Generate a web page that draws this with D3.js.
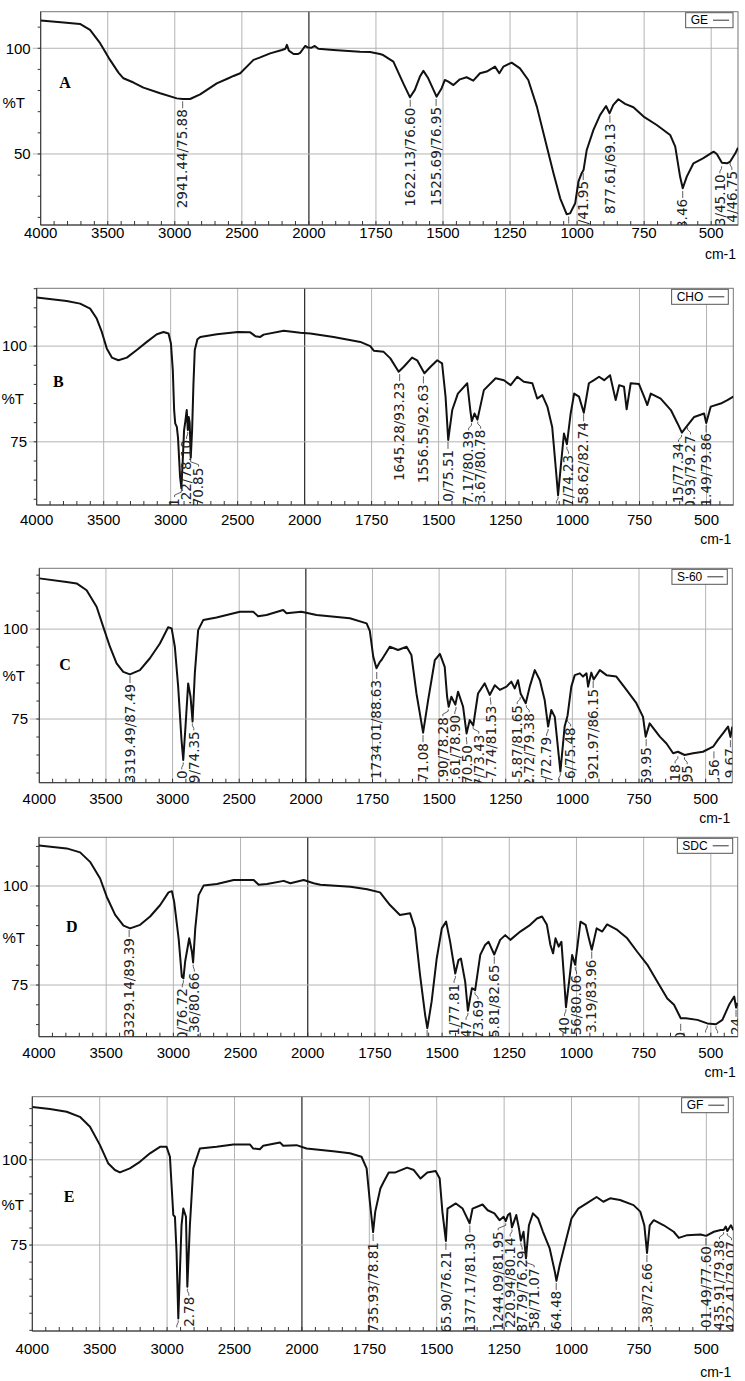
<!DOCTYPE html>
<html>
<head>
<meta charset="utf-8">
<script src="https://cdn.jsdelivr.net/npm/d3@7/dist/d3.min.js"></script>
<style>
body { margin: 0; background: #fff; }
svg { display: block; }
</style>
</head>
<body>
<div id="chart"></div>
<script>

// ---- data: [wavenumber cm-1, %T] ----
var spectrumGE = [[4000,113.1],[3850,112.3],[3707,111.5],[3632,108.7],[3557,102.4],[3483,94.5],[3420,88.5],[3383,85.8],[3308,83.8],[3234,81.4],[3109,78.7],[2985,76.3],[2941,76.0],[2886,76.0],[2811,78.2],[2687,83.4],[2600,85.8],[2562,86.9],[2512,88.2],[2413,94.5],[2363,95.7],[2289,97.6],[2201,99.2],[2175,99.8],[2164,101.6],[2150,99.0],[2139,98.4],[2114,97.3],[2080,97.3],[2065,97.8],[2040,100],[2027,101.1],[2010,100.4],[1990,100.3],[1978,101.1],[1965,99.8],[1909,99.2],[1810,98.4],[1772,98.2],[1735,97.3],[1723,96.8],[1685,93.7],[1648,83.4],[1623,76.8],[1605,80.3],[1586,86.6],[1573,89.3],[1555,85.8],[1524,77.1],[1505,81.1],[1493,85.0],[1480,84.2],[1461,82.6],[1437,85.3],[1412,86.3],[1387,84.7],[1362,88.2],[1337,89.0],[1306,91.3],[1290,88.2],[1275,91.3],[1244,93.2],[1213,90.5],[1182,85.0],[1150,72.4],[1119,56.6],[1088,40.9],[1063,29.0],[1039,21.5],[1026,21.9],[1007,26.7],[995,36.9],[983,40.9],[976,42.4],[964,51.9],[939,61.4],[914,68.5],[892,72.7],[879,69.2],[865,73.2],[846,75.9],[821,73.7],[790,72.1],[752,67.7],[703,63.7],[653,59.0],[634,53.5],[616,39.3],[606,33.8],[591,39.3],[566,45.6],[529,48.0],[491,51.1],[479,50.0],[460,45.9],[441,45.6],[429,46.4],[410,50.3],[400,53.0]];

var spectrumCHO = [[4000,112.7],[3776,111.8],[3676,111.1],[3601,109.8],[3552,107.2],[3514,103.7],[3477,99.4],[3439,97.0],[3390,96.3],[3327,97.0],[3253,99.0],[3178,101.1],[3103,103.1],[3053,103.7],[3016,103.3],[2998,100.7],[2984,93.7],[2974,83.3],[2966,79.8],[2954,78.9],[2945,76],[2930,66],[2920,62.9],[2910,70],[2900,78],[2890,80.5],[2880,83.3],[2872,78.1],[2865,81.5],[2858,80],[2850,70.85],[2840,78],[2830,90],[2820,99],[2800,101.8],[2779,102.4],[2655,103.1],[2498,103.7],[2406,103.6],[2368,102.6],[2331,102.4],[2306,103.0],[2156,104.0],[2032,103.5],[1979,103.3],[1892,102.4],[1792,101.1],[1755,100],[1742,98.8],[1705,98.5],[1680,96.8],[1649,93.3],[1630,94.6],[1599,97.0],[1580,96.3],[1553,92.9],[1530,94.6],[1505,96.3],[1487,95.5],[1474,86.8],[1464,75.5],[1449,83.3],[1428,87.6],[1393,90.3],[1381,82.9],[1376,80.4],[1366,82.4],[1355,80.8],[1331,88.5],[1287,91.6],[1256,91.1],[1231,89.8],[1206,92.0],[1182,90.7],[1150,90.3],[1132,86.3],[1113,87.2],[1094,84.2],[1076,78.9],[1063,68.5],[1054,61.1],[1044,68.5],[1032,77.2],[1021,74.4],[1007,82.4],[994,87.6],[976,86.8],[958,82.6],[939,90.3],[920,91.1],[901,92.0],[882,91.1],[860,92.4],[839,85.9],[826,89.8],[808,89.4],[798,83.5],[783,90.3],[752,90.1],[733,86.8],[721,84.6],[708,87.6],[671,86.3],[633,83.3],[608,79.8],[592,77.4],[571,79.3],[546,81.5],[509,82.4],[501,79.9],[484,84.2],[447,85.0],[422,85.9],[400,86.8]];

var spectrumS60 = [[4000,114.1],[3795,113.1],[3720,112.7],[3645,110.8],[3570,106.2],[3520,100.6],[3470,95.1],[3420,90.5],[3370,88.1],[3320,87.4],[3245,88.6],[3170,91.9],[3095,96.0],[3033,100.5],[3007,100.2],[2983,95.1],[2958,84.0],[2933,69.2],[2920,63.6],[2903,72.9],[2883,84.9],[2865,81.2],[2850,74.3],[2833,87.7],[2808,99.7],[2770,102.5],[2670,103.2],[2495,104.8],[2395,104.8],[2358,103.6],[2295,103.9],[2170,105.3],[2145,104.4],[2033,104.8],[1960,103.9],[1835,103.0],[1772,101.6],[1760,99.5],[1747,92.3],[1735,89.1],[1722,90.9],[1716,91.4],[1685,95.1],[1654,94.2],[1622,95.1],[1604,92.8],[1585,82.1],[1560,71.2],[1541,80.3],[1516,91.4],[1497,93.1],[1479,89.5],[1470,81.2],[1464,78.4],[1454,81.2],[1439,79.0],[1429,82.6],[1410,78.4],[1397,71.0],[1385,74.7],[1372,73.2],[1354,82.1],[1329,84.9],[1310,81.7],[1291,84.4],[1272,83.1],[1247,84.0],[1229,85.4],[1216,83.5],[1204,85.8],[1194,82.0],[1175,79.4],[1160,84.0],[1141,88.6],[1122,85.8],[1104,80.3],[1091,72.9],[1079,77.5],[1066,75.6],[1045,60.4],[1029,72.9],[1018,76.0],[1004,84.0],[991,87.2],[972,87.7],[960,86.8],[947,87.7],[941,84.0],[929,87.9],[920,86.0],[897,88.6],[872,87.2],[835,86.8],[797,83.1],[760,79.4],[735,75.6],[725,70.1],[710,73.8],[672,70.1],[647,68.2],[622,65.5],[604,65.9],[579,65.0],[547,65.5],[510,65.9],[472,67.3],[454,69.2],[435,71.0],[416,72.9],[407,70.0],[400,72.9]];

var spectrumSDC = [[4000,110.2],[3794,109.5],[3694,108.5],[3620,106.1],[3545,101.9],[3496,97.3],[3433,92.7],[3371,90.0],[3322,89.3],[3247,90.2],[3173,92.3],[3098,95.2],[3036,98.4],[3011,98.7],[2994,96.0],[2961,86.8],[2937,77.1],[2925,76.7],[2912,81.0],[2882,86.8],[2862,83.4],[2853,80.7],[2837,89.3],[2812,97.7],[2775,100.1],[2676,100.5],[2551,101.5],[2402,101.5],[2365,100.3],[2303,100.5],[2179,101.3],[2129,100.7],[2030,101.5],[1978,100.7],[1953,100.3],[1841,99.8],[1779,99.2],[1731,98.4],[1694,95.2],[1657,92.7],[1619,93.1],[1601,89.3],[1582,77.5],[1563,67.4],[1555,64.1],[1539,70.8],[1520,81.7],[1501,89.3],[1485,91.0],[1470,85.9],[1451,77.9],[1439,81.3],[1430,81.7],[1414,75.8],[1404,68.5],[1389,74.2],[1377,73.7],[1358,82.6],[1340,85.1],[1327,85.9],[1306,82.7],[1284,86.4],[1265,87.6],[1246,86.4],[1209,88.5],[1172,90.2],[1147,91.8],[1128,92.3],[1110,90.2],[1097,85.1],[1087,83.0],[1078,86.8],[1066,84.7],[1056,85.9],[1047,77.5],[1039,69.4],[1026,76.7],[1016,82.6],[1005,80.1],[985,91.0],[966,90.2],[954,86.8],[943,83.9],[925,89.3],[904,88.5],[886,90.3],[848,88.9],[811,86.8],[774,83.4],[736,80.1],[699,75.8],[662,71.6],[637,70.0],[612,66.6],[593,66.6],[550,66.2],[513,65.3],[481,65.1],[457,66.2],[432,70.0],[413,72.1],[406,69.3],[400,70.5]];

var spectrumGF = [[4000,115.5],[3869,114.9],[3745,114.1],[3647,112.6],[3572,109.7],[3498,104.3],[3436,98.9],[3387,97.0],[3350,96.3],[3276,97.5],[3202,99.4],[3127,101.9],[3053,103.8],[3004,103.8],[2979,100.9],[2967,92.6],[2954,83.8],[2942,83.3],[2930,73.0],[2917,53.5],[2905,67.2],[2893,80.8],[2880,85.7],[2860,83.3],[2850,62.8],[2831,80.8],[2806,97.5],[2757,103.3],[2633,103.8],[2509,104.5],[2386,104.5],[2361,103.3],[2312,103.1],[2287,104.1],[2163,105.1],[2139,104.1],[2040,104.3],[1983,103.3],[1884,102.5],[1822,101.9],[1779,100.9],[1760,97.5],[1748,87.7],[1736,78.8],[1728,84.8],[1709,91.6],[1697,93.5],[1678,96.3],[1653,96.3],[1610,97.7],[1585,97.0],[1560,94.5],[1535,96.3],[1504,96.7],[1489,94.5],[1479,84.8],[1466,76.2],[1460,85.7],[1429,87.2],[1404,85.7],[1378,81.4],[1367,85.7],[1330,86.9],[1311,85.2],[1286,84.3],[1267,82.3],[1252,83.3],[1244,82.0],[1236,83.8],[1228,84.3],[1221,80.2],[1205,83.8],[1195,79.9],[1188,76.3],[1178,78.9],[1169,71.1],[1158,80.8],[1143,84.3],[1124,82.8],[1106,78.9],[1081,74.0],[1062,67.2],[1056,64.5],[1044,69.1],[1019,76.9],[1000,82.8],[975,85.7],[944,87.2],[907,89.1],[882,87.7],[857,88.7],[820,88.2],[770,86.7],[745,84.8],[730,80.8],[720,72.7],[710,80.8],[695,82.3],[658,80.8],[621,78.9],[602,77.1],[571,77.9],[521,78.1],[501,77.7],[472,78.9],[447,79.4],[436,79.4],[428,80.4],[422,79.1],[409,80.8],[400,79.4]];

// ---- peak picks: [wavenumber, %T] -> label "w/T" ----
var peaksGE = [[2941.44,75.88],[1622.13,76.60],[1525.69,76.95],[1031.31,21.37],[977.12,41.95],[877.61,69.13],[606.13,33.46],[461.13,45.10],[429.34,46.75]];
var peaksCHO = [[2920.41,62.91],[2872.22,78.10],[2851.14,70.85],[1645.28,93.23],[1556.55,92.63],[1464.90,75.51],[1377.17,80.39],[1353.67,80.78],[1054.07,61.27],[1021.27,74.23],[958.62,82.74],[593.15,77.34],[570.93,79.27],[501.49,79.86]];
var peaksS60 = [[3319.49,87.49],[2920.07,63.50],[2851.59,74.35],[1734.01,88.63],[1560.33,71.08],[1465.90,78.28],[1436.61,78.90],[1397.62,70.50],[1372.27,73.43],[1307.74,81.53],[1195.87,81.65],[1172.72,79.38],[1091.23,72.79],[1045.16,60.48],[1018.56,75.48],[921.97,86.15],[723.14,69.95],[604.27,65.18],[579.38,64.95],[468.91,66.56],[407.12,69.67]];
var peaksSDC = [[3329.14,89.39],[2925.30,76.72],[2852.36,80.66],[1555.76,64.15],[1450.61,77.81],[1404.12,68.47],[1377.72,73.69],[1305.81,82.65],[1039.52,69.40],[1004.56,80.06],[943.19,83.96],[612.10,65.70],[513.28,65.28],[481.09,65.09],[406.24,69.24]];
var peaksGF = [[2917.71,53.52],[2849.62,62.78],[1735.93,78.81],[1465.90,76.21],[1377.17,81.30],[1244.09,81.95],[1220.94,80.14],[1187.79,76.29],[1168.58,71.07],[1056.81,64.48],[720.38,72.66],[501.49,77.60],[435.91,79.38],[422.41,79.07]];

// ---- axis ticks ----
var xTickLabels = [4000,3500,3000,2500,2000,1750,1500,1250,1000,750,500];
var yTicksGE = [50,100];
var yTicksOther = [75,100];

// ---- panel layout (pixel boxes of the stitched figure) ----
var panels = [
  {letter:'A', name:'GE',  spec:spectrumGE,  peaks:peaksGE,  yTicks:yTicksGE,    yStep:10,
   left:40.7, right:738,   top:11.7,   bottom:225,    yMin:16.4,  yMax:117.3, labRight:30.7, pctRight:25,  pctY:103,    let:[65,82],      xLabY:232.3,  cmY:254},
  {letter:'B', name:'CHO', spec:spectrumCHO, peaks:peaksCHO, yTicks:yTicksOther, yStep:5,
   left:36.7, right:733.3, top:288.3,  bottom:505,    yMin:58.5,  yMax:115.1, labRight:27,   pctRight:24,  pctY:398.3,  let:[58.3,381.7], xLabY:519.3,  cmY:539},
  {letter:'C', name:'S-60', spec:spectrumS60, peaks:peaksS60, yTicks:yTicksOther, yStep:5,
   left:39.3, right:732.3, top:568.3,  bottom:782.7,  yMin:57.3,  yMax:116.9, labRight:28,   pctRight:25,  pctY:676,    let:[65,664],     xLabY:798.3,  cmY:818},
  {letter:'D', name:'SDC', spec:spectrumSDC, peaks:peaksSDC, yTicks:yTicksOther, yStep:5,
   left:39,   right:737.7, top:837.3,  bottom:1036.7, yMin:61.95, yMax:112.3, labRight:28,   pctRight:25,  pctY:937.7,  let:[71.7,926.7], xLabY:1052.3, cmY:1071.7},
  {letter:'E', name:'GF',  spec:spectrumGF,  peaks:peaksGF,  yTicks:yTicksOther, yStep:5,
   left:32.3, right:733.3, top:1096.7, bottom:1331,   yMin:49.8,  yMax:118.5, labRight:27,   pctRight:24,  pctY:1205,   let:[69,1196.7],  xLabY:1348.3, cmY:1371.7}
];

var sansFont = '"Liberation Sans", Arial, sans-serif';
var peakFont = '"DejaVu Sans", Verdana, sans-serif';

var svg = d3.select('#chart')
	.append('svg')
	.attr('width', 745)
	.attr('height', 1381);

// push overlapping peak labels apart sideways
function spreadLabels(items, gap) {
	items.sort(function (a, b) { return a.x0 - b.x0; });
	items.forEach(function (d) { d.x = d.x0; });
	for (var k = 0; k < 60; k++) {
		for (var i = 1; i < items.length; i++) {
			var over = gap - (items[i].x - items[i-1].x);
			if (over > 0) { items[i-1].x -= over/2; items[i].x += over/2; }
		}
	}
}

panels.forEach(function (p, pi) {
	// x axis has a scale change at 2000 cm-1 (right part twice as wide per unit)
	var mid = p.left + (p.right - p.left) * 2000 / 5200;
	var x = d3.scaleLinear().domain([4000, 2000, 400]).range([p.left, mid, p.right]);
	var y = d3.scaleLinear().domain([p.yMin, p.yMax]).range([p.bottom, p.top]);
	var g = svg.append('g').attr('class', 'panel' + p.letter);

	g.append('clipPath').attr('id', 'clip' + pi)
		.append('rect')
		.attr('x', p.left).attr('y', p.top)
		.attr('width', p.right - p.left).attr('height', p.bottom - p.top);

	// grid
	g.selectAll('.vgrid').data(xTickLabels.filter(function (d) { return d !== 4000; }))
		.enter().append('line')
		.attr('x1', function (d) { return x(d); }).attr('x2', function (d) { return x(d); })
		.attr('y1', p.top).attr('y2', p.bottom)
		.attr('stroke', function (d) { return d === 2000 ? '#333' : '#b4b4b4'; })
		.attr('stroke-width', function (d) { return d === 2000 ? 1.3 : 1; });

	g.selectAll('.hgrid').data(p.yTicks)
		.enter().append('line')
		.attr('x1', p.labRight + 2).attr('x2', p.right)
		.attr('y1', function (d) { return y(d); }).attr('y2', function (d) { return y(d); })
		.attr('stroke', '#b4b4b4');

	// frame
	g.append('rect')
		.attr('x', p.left).attr('y', p.top)
		.attr('width', p.right - p.left).attr('height', p.bottom - p.top)
		.attr('fill', 'none').attr('stroke', '#777');
	g.append('line')
		.attr('x1', p.left).attr('x2', p.left).attr('y1', p.top).attr('y2', p.bottom)
		.attr('stroke', '#333');
	g.append('line')
		.attr('x1', p.left).attr('x2', p.right).attr('y1', p.bottom).attr('y2', p.bottom)
		.attr('stroke', '#333');

	// y ticks and labels
	var yMinor = d3.range(Math.ceil(p.yMin / p.yStep) * p.yStep, p.yMax, p.yStep);
	g.selectAll('.ytick').data(yMinor)
		.enter().append('line')
		.attr('x1', p.left - 3).attr('x2', p.left)
		.attr('y1', function (d) { return y(d); }).attr('y2', function (d) { return y(d); })
		.attr('stroke', '#333');
	g.selectAll('.ylab').data(p.yTicks)
		.enter().append('text')
		.attr('x', p.labRight).attr('y', function (d) { return y(d); })
		.attr('dy', '0.35em')
		.attr('text-anchor', 'end')
		.style('font', '15px ' + sansFont)
		.text(function (d) { return d; });
	g.append('text')
		.attr('x', p.pctRight).attr('y', p.pctY).attr('dy', '0.35em')
		.attr('text-anchor', 'end')
		.style('font', '15px ' + sansFont)
		.text('%T');

	// x ticks (minor every 100 left of the break, every 50 right of it)
	var xMinor = d3.range(2000, 4000, 100).concat(d3.range(450, 2000, 50));
	g.selectAll('.xtick').data(xMinor)
		.enter().append('line')
		.attr('x1', function (d) { return x(d); }).attr('x2', function (d) { return x(d); })
		.attr('y1', p.bottom - 4).attr('y2', p.bottom)
		.attr('stroke', '#333');
	g.selectAll('.xlab').data(xTickLabels)
		.enter().append('text')
		.attr('x', function (d) { return x(d); }).attr('y', p.xLabY).attr('dy', '0.35em')
		.attr('text-anchor', 'middle')
		.style('font', '15px ' + sansFont)
		.text(function (d) { return d; });
	g.append('text')
		.attr('x', p.right - 2).attr('y', p.cmY).attr('dy', '0.35em')
		.attr('text-anchor', 'end')
		.style('font', '14px ' + sansFont)
		.text('cm-1');

	// spectrum
	var line = d3.line()
		.x(function (d) { return x(d[0]); })
		.y(function (d) { return y(d[1]); });
	g.append('path')
		.datum(p.spec)
		.attr('clip-path', 'url(#clip' + pi + ')')
		.attr('d', line)
		.attr('fill', 'none')
		.attr('stroke', '#111')
		.attr('stroke-width', 2)
		.attr('stroke-linejoin', 'round');

	// peak labels, hanging below each peak, cut off by the plot bottom
	var items = p.peaks.map(function (d) {
		return {w: d[0], t: d[1], x0: x(d[0]), py: y(d[1]), text: d[0].toFixed(2) + '/' + d[1].toFixed(2)};
	});
	spreadLabels(items, 12);
	var lab = g.append('g').attr('clip-path', 'url(#clip' + pi + ')');
	lab.selectAll('path').data(items)
		.enter().append('path')
		.attr('d', function (d) {
			var top = d.py + 10;
			return 'M' + d.x0 + ',' + (d.py + 2) + 'V' + (d.py + 4) + 'L' + d.x + ',' + (top - 3) + 'V' + (top - 1);
		})
		.attr('fill', 'none').attr('stroke', '#333').attr('stroke-width', 0.8);
	lab.selectAll('text').data(items)
		.enter().append('text')
		.attr('transform', function (d) { return 'translate(' + d.x + ',' + (d.py + 10) + ') rotate(-90)'; })
		.attr('dy', '0.35em')
		.attr('text-anchor', 'end')
		.style('font', '13.5px ' + peakFont)
		.attr('fill', '#222')
		.text(function (d) { return d.text; })
		.each(function (d) {
			// keep only the part that shows above the axis, like the original print
			var room = p.bottom - (d.py + 10) + 4;
			var s = d.text, t = d3.select(this);
			while (s.length > 0 && this.getComputedTextLength() > room) {
				s = s.slice(1);
				t.text(s);
			}
			if (!s.length) t.remove();
		});

	// panel letter
	g.append('text')
		.attr('x', p.let[0]).attr('y', p.let[1]).attr('dy', '0.35em')
		.attr('text-anchor', 'middle')
		.style('font', 'bold 16px "Liberation Serif", "Times New Roman", serif')
		.text(p.letter);

	// legend box
	var leg = g.append('g');
	var lt = leg.append('text')
		.style('font', '12px ' + sansFont)
		.text(p.name);
	var tw = lt.node().getComputedTextLength();
	var lw = tw + 30, lx = p.right - 5 - lw, ly = p.top + 1;
	leg.insert('rect', 'text')
		.attr('x', lx).attr('y', ly).attr('width', lw).attr('height', 15)
		.attr('fill', '#fff').attr('stroke', '#555');
	lt.attr('x', lx + 5).attr('y', ly + 7.5).attr('dy', '0.35em');
	leg.append('line')
		.attr('x1', lx + tw + 10).attr('x2', lx + lw - 4)
		.attr('y1', ly + 7.5).attr('y2', ly + 7.5)
		.attr('stroke', '#333');
});

</script>
</body>
</html>
